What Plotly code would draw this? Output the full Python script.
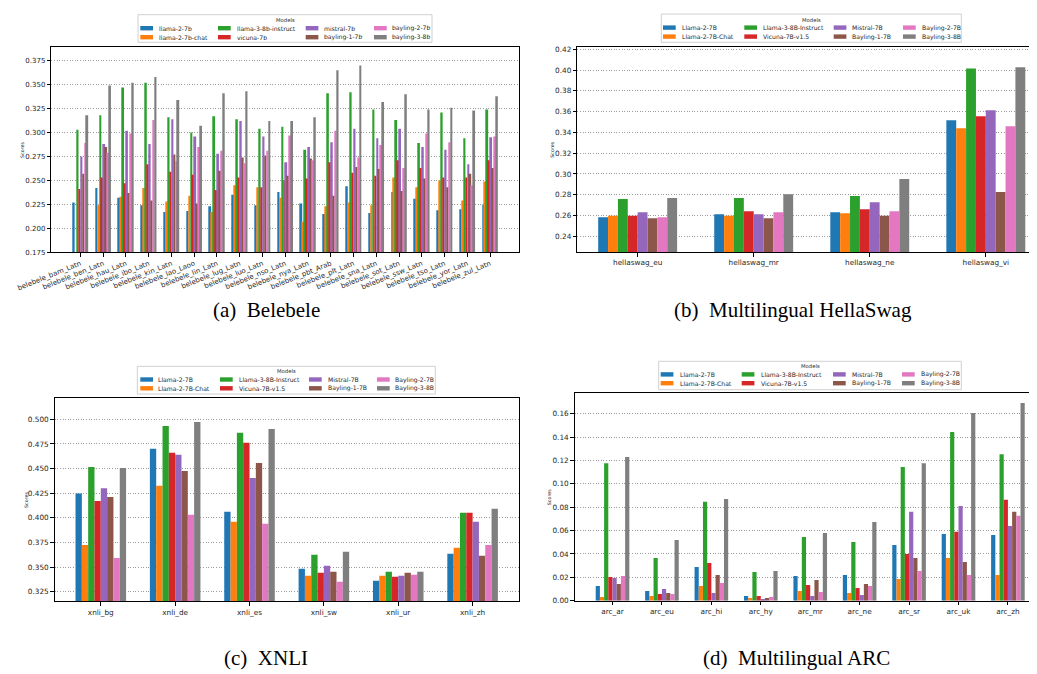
import plotly.graph_objects as go

W, H = 1037, 674

def px(x):
    return x / W

def py(y):
    return 1 - y / H

colors = ['#1f77b4', '#ff7f0e', '#2ca02c', '#d62728', '#9467bd', '#8c564b', '#e377c2', '#7f7f7f']
models_lower = ['llama-2-7b', 'llama-2-7b-chat', 'llama-3-8b-instruct', 'vicuna-7b',
                'mistral-7b', 'bayling-1-7b', 'bayling-2-7b', 'bayling-3-8b']
models_title = ['Llama-2-7B', 'Llama-2-7B-Chat', 'Llama-3-8B-Instruct', 'Vicuna-7B-v1.5',
                'Mistral-7B', 'Bayling-1-7B', 'Bayling-2-7B', 'Bayling-3-8B']

# ---------------- Belebele ----------------
bele_langs = ['belebele_bam_Latn', 'belebele_ben_Latn', 'belebele_hau_Latn', 'belebele_ibo_Latn',
              'belebele_kin_Latn', 'belebele_lao_Laoo', 'belebele_lin_Latn', 'belebele_lug_Latn',
              'belebele_luo_Latn', 'belebele_nso_Latn', 'belebele_nya_Latn', 'belebele_pbt_Arab',
              'belebele_plt_Latn', 'belebele_sna_Latn', 'belebele_sot_Latn', 'belebele_ssw_Latn',
              'belebele_tso_Latn', 'belebele_yor_Latn', 'belebele_zul_Latn']
bele_llama2 = [0.227, 0.242, 0.232, 0.224, 0.217, 0.218, 0.223, 0.235, 0.224, 0.238,
               0.226, 0.215, 0.244, 0.216, 0.238, 0.231, 0.219, 0.220, 0.225]
bele_llama2chat = [0.170, 0.224, 0.233, 0.242, 0.228, 0.234, 0.217, 0.245, 0.243, 0.232,
                   0.207, 0.223, 0.227, 0.224, 0.253, 0.243, 0.250, 0.229, 0.249]
bele_llama3 = [0.303, 0.318, 0.347, 0.352, 0.316, 0.300, 0.317, 0.314, 0.304, 0.306,
               0.282, 0.341, 0.342, 0.324, 0.313, 0.289, 0.321, 0.294, 0.324]
bele_vicuna = [0.241, 0.253, 0.247, 0.267, 0.259, 0.256, 0.240, 0.253, 0.243, 0.250,
               0.252, 0.269, 0.258, 0.255, 0.271, 0.263, 0.253, 0.253, 0.271]
bele_mistral = [0.275, 0.288, 0.302, 0.288, 0.314, 0.296, 0.278, 0.312, 0.296, 0.269,
                0.285, 0.290, 0.304, 0.294, 0.304, 0.285, 0.282, 0.267, 0.295]
bele_bayling1 = [0.257, 0.285, 0.237, 0.229, 0.277, 0.226, 0.260, 0.274, 0.276, 0.255,
                 0.273, 0.234, 0.264, 0.262, 0.239, 0.252, 0.243, 0.257, 0.263]
bele_bayling2 = [0.289, 0.279, 0.299, 0.313, 0.270, 0.285, 0.281, 0.268, 0.281, 0.297,
                 0.271, 0.302, 0.274, 0.287, 0.263, 0.299, 0.290, 0.245, 0.296]
bele_bayling3 = [0.318, 0.349, 0.352, 0.358, 0.334, 0.307, 0.341, 0.343, 0.312, 0.312,
                 0.316, 0.365, 0.370, 0.332, 0.340, 0.324, 0.326, 0.323, 0.338]

# ---------------- HellaSwag ----------------
hs_langs = ['hellaswag_eu', 'hellaswag_mr', 'hellaswag_ne', 'hellaswag_vi']
hs_llama2 = [0.2584, 0.2613, 0.2632, 0.3518]
hs_llama2chat = [0.2597, 0.2597, 0.2623, 0.3441]
hs_llama3 = [0.2758, 0.2768, 0.2787, 0.4016]
hs_vicuna = [0.2597, 0.2642, 0.2661, 0.3556]
hs_mistral = [0.2632, 0.2613, 0.2729, 0.3614]
hs_bayling1 = [0.2574, 0.2574, 0.2597, 0.2826]
hs_bayling2 = [0.2584, 0.2632, 0.2642, 0.3460]
hs_bayling3 = [0.2768, 0.2806, 0.2952, 0.4026]

# ---------------- XNLI ----------------
xnli_langs = ['xnli_bg', 'xnli_de', 'xnli_es', 'xnli_sw', 'xnli_ur', 'xnli_zh']
xnli_llama2 = [0.4248, 0.4702, 0.4061, 0.3483, 0.3361, 0.3636]
xnli_llama2chat = [0.3725, 0.4325, 0.3959, 0.3412, 0.3412, 0.3697]
xnli_llama3 = [0.4517, 0.4933, 0.4863, 0.3625, 0.3453, 0.4051]
xnli_vicuna = [0.4170, 0.4661, 0.4763, 0.3442, 0.3402, 0.4051]
xnli_mistral = [0.4301, 0.4640, 0.4404, 0.3514, 0.3412, 0.3959]
xnli_bayling1 = [0.4212, 0.4476, 0.4558, 0.3453, 0.3442, 0.3615]
xnli_bayling2 = [0.3593, 0.4030, 0.3939, 0.3351, 0.3422, 0.3725]
xnli_bayling3 = [0.4507, 0.4973, 0.4903, 0.3656, 0.3453, 0.4092]

# ---------------- ARC ----------------
arc_langs = ['arc_ar', 'arc_eu', 'arc_hi', 'arc_hy', 'arc_mr', 'arc_ne', 'arc_sr', 'arc_uk', 'arc_zh']
arc_llama2 = [0.0126, 0.0083, 0.0289, 0.0040, 0.0211, 0.0220, 0.0477, 0.0571, 0.0563]
arc_llama2chat = [0.0031, 0.0040, 0.0126, 0.0023, 0.0083, 0.0066, 0.0186, 0.0366, 0.0220]
arc_llama3 = [0.1177, 0.0366, 0.0846, 0.0246, 0.0546, 0.0503, 0.1143, 0.1443, 0.1254]
arc_vicuna = [0.0203, 0.0057, 0.0323, 0.0040, 0.0134, 0.0109, 0.0400, 0.0589, 0.0863]
arc_mistral = [0.0194, 0.0100, 0.0066, 0.0014, 0.0040, 0.0049, 0.0760, 0.0811, 0.0640]
arc_bayling1 = [0.0143, 0.0066, 0.0220, 0.0023, 0.0177, 0.0143, 0.0366, 0.0331, 0.0760]
arc_bayling2 = [0.0211, 0.0057, 0.0151, 0.0031, 0.0074, 0.0126, 0.0254, 0.0220, 0.0726]
arc_bayling3 = [0.1229, 0.0520, 0.0871, 0.0254, 0.0580, 0.0674, 0.1177, 0.1606, 0.1691]

panels = [
    dict(cats=bele_langs,
         series=[bele_llama2, bele_llama2chat, bele_llama3, bele_vicuna,
                 bele_mistral, bele_bayling1, bele_bayling2, bele_bayling3],
         names=models_lower, xd=(43.3, 511), yd=(39, 244.3), yr=(0.175, 0.3893),
         ticks=[0.175, 0.2, 0.225, 0.25, 0.275, 0.3, 0.325, 0.35, 0.375], fmt='.3f',
         xr=(-1.28, 19.27), angle=-22, box=True, fs=7.0, ytitle=(14.3, 141.6),
         caption='(a)  Belebele', cap=(258, 302),
         leg=dict(box=(130, 6.7, 424, 34.3), title_y=11.8, rows=(20.2, 29.2),
                  patch=[132.3, 210, 297.7, 366], text=[150, 227.7, 315.3, 383.3])),
    dict(cats=hs_langs,
         series=[hs_llama2, hs_llama2chat, hs_llama3, hs_vicuna,
                 hs_mistral, hs_bayling1, hs_bayling2, hs_bayling3],
         names=models_title, xd=(569.3, 1037), yd=(39, 244), yr=(0.2249, 0.4222),
         ticks=[0.24, 0.26, 0.28, 0.30, 0.32, 0.34, 0.36, 0.38, 0.40, 0.42], fmt='.2f',
         xr=(-0.52, 3.51), angle=0, box=False, fs=7.3, ytitle=(544.3, 141.5),
         caption='(b)  Multilingual HellaSwag', cap=(785, 302),
         leg=dict(box=(653.3, 6, 953.3, 34.3), title_y=11.6, rows=(19.6, 28.6),
                  patch=[655, 736.3, 825.7, 895], text=[672.7, 754, 843.3, 912.7])),
    dict(cats=xnli_langs,
         series=[xnli_llama2, xnli_llama2chat, xnli_llama3, xnli_vicuna,
                 xnli_mistral, xnli_bayling1, xnli_bayling2, xnli_bayling3],
         names=models_title, xd=(46.7, 510.7), yd=(390, 593.3), yr=(0.3152, 0.5217),
         ticks=[0.325, 0.35, 0.375, 0.4, 0.425, 0.45, 0.475, 0.5], fmt='.3f',
         xr=(-0.62, 5.62), angle=0, box=True, fs=7.3, ytitle=(18.3, 491.7),
         caption='(c)  XNLI', cap=(258, 650),
         leg=dict(box=(129.3, 358.3, 427.3, 386), title_y=363.2, rows=(371.5, 380.3),
                  patch=[132.3, 212, 301, 369], text=[149.3, 229.7, 318.7, 386.3])),
    dict(cats=arc_langs,
         series=[arc_llama2, arc_llama2chat, arc_llama3, arc_vicuna,
                 arc_mistral, arc_bayling1, arc_bayling2, arc_bayling3],
         names=models_title, xd=(566.7, 1037), yd=(385, 592.7), yr=(0.0, 0.1777),
         ticks=[0.0, 0.02, 0.04, 0.06, 0.08, 0.10, 0.12, 0.14, 0.16], fmt='.2f',
         xr=(-0.765, 8.75), angle=0, box=False, fs=7.3, ytitle=(542.3, 488.9),
         caption='(d)  Multilingual ARC', cap=(788, 650),
         leg=dict(box=(650.7, 353.3, 953.3, 381.7), title_y=358.4, rows=(366.4, 375.2),
                  patch=[652.7, 733.7, 825, 894], text=[670.7, 751.7, 842.7, 911.7])),
]

fig = go.Figure()
layout = dict(width=W, height=H, margin=dict(l=0, r=0, t=0, b=0),
              paper_bgcolor='white', plot_bgcolor='white',
              barmode='group', bargap=0.32, bargroupgap=0.0,
              showlegend=False, font=dict(family='DejaVu Sans', color='#262626'))
shapes = []
annotations = []

for i, p in enumerate(panels):
    n = '' if i == 0 else str(i + 1)
    xa, ya = 'x' + n, 'y' + n
    for k, (vals, c, nm) in enumerate(zip(p['series'], colors, p['names'])):
        fig.add_trace(go.Bar(x=p['cats'], y=vals, name=nm, marker=dict(color=c, line=dict(width=0)),
                             xaxis=xa, yaxis=ya, showlegend=False))
    layout['xaxis' + n] = dict(
        domain=[px(p['xd'][0]), min(1.0, px(p['xd'][1]))], anchor=ya,
        type='category', range=list(p['xr']), showgrid=False,
        showline=True, linecolor='black', linewidth=1.1, mirror=True,
        ticks='outside', ticklen=3.5, tickwidth=0.8, tickcolor='black',
        tickangle=p['angle'], tickfont=dict(size=p['fs'], family='DejaVu Sans', color='#262626'),
        automargin=False, zeroline=False)
    layout['yaxis' + n] = dict(
        domain=[py(p['yd'][1]), py(p['yd'][0])], anchor=xa,
        range=list(p['yr']), tickvals=p['ticks'], tickformat=p['fmt'],
        showgrid=True, gridcolor='#9a9a9a', griddash='1px,1.6px', gridwidth=1,
        showline=True, linecolor='black', linewidth=1.1, mirror=p['box'],
        ticks='outside', ticklen=3.5, tickwidth=0.8, tickcolor='black',
        tickfont=dict(size=p['fs'], family='DejaVu Sans', color='#262626'),
        automargin=False, zeroline=False)
    # y-axis label
    annotations.append(dict(text='Scores', x=px(p['ytitle'][0]), y=py(p['ytitle'][1]),
                            xref='paper', yref='paper', showarrow=False, textangle=-90,
                            font=dict(size=4.8, family='DejaVu Sans', color='#262626'),
                            xanchor='center', yanchor='middle'))
    # caption
    annotations.append(dict(text=p['caption'], x=px(p['cap'][0]), y=py(p['cap'][1]),
                            xref='paper', yref='paper', showarrow=False,
                            font=dict(size=21, family='Liberation Serif', color='black'),
                            xanchor='center', yanchor='middle'))
    # legend
    lg = p['leg']
    bx0, by0, bx1, by1 = lg['box']
    shapes.append(dict(type='rect', xref='paper', yref='paper',
                       x0=px(bx0), x1=px(bx1), y0=py(by1), y1=py(by0),
                       line=dict(color='#d0d0d0', width=1), fillcolor='rgba(255,255,255,0.85)',
                       layer='above'))
    annotations.append(dict(text='Models', x=px((bx0 + bx1) / 2), y=py(lg['title_y']),
                            xref='paper', yref='paper', showarrow=False,
                            font=dict(size=5.3, family='DejaVu Sans', color='#262626'),
                            xanchor='center', yanchor='middle'))
    for k, (c, nm) in enumerate(zip(colors, p['names'])):
        col, row = k // 2, k % 2
        yc = lg['rows'][row]
        shapes.append(dict(type='rect', xref='paper', yref='paper',
                           x0=px(lg['patch'][col]), x1=px(lg['patch'][col] + 12.7),
                           y0=py(yc + 2.2), y1=py(yc - 2.2),
                           line=dict(width=0), fillcolor=c, layer='above'))
        annotations.append(dict(text=nm, x=px(lg['text'][col] - 1), y=py(yc),
                                xref='paper', yref='paper', showarrow=False,
                                font=dict(size=6.1, family='DejaVu Sans', color='#262626'),
                                xanchor='left', yanchor='middle'))

layout['shapes'] = shapes
layout['annotations'] = annotations
fig.update_layout(**layout)
fig.write_html('out.html')
